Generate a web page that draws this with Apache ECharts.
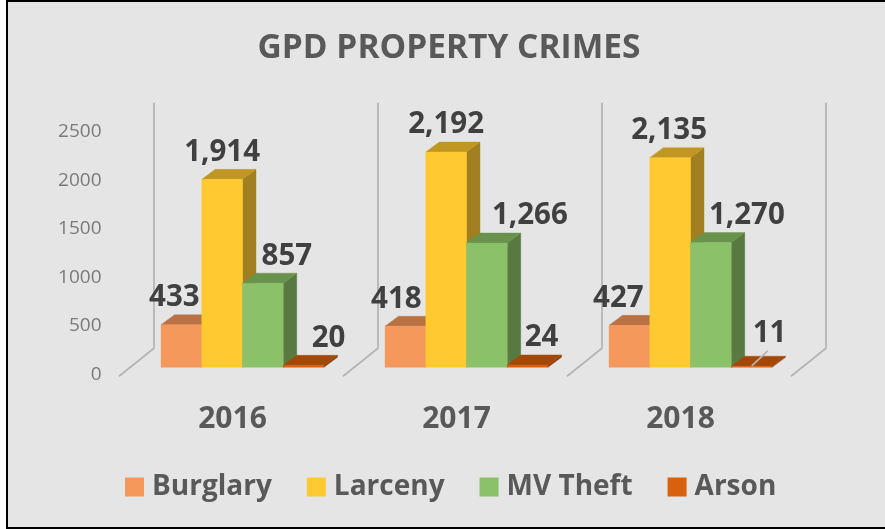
<!DOCTYPE html>
<html><head><meta charset="utf-8">
<style>html,body{margin:0;padding:0;background:#fff}#c{width:885px;height:529px}</style>
<script src="https://cdn.jsdelivr.net/npm/echarts@6/dist/echarts.min.js"></script>
</head><body><div id="c"></div>
<script>
const years = ['2016','2017','2018'];
const burglary = [433,418,427];
const larceny = [1914,2192,2135];
const mvTheft = [857,1266,1270];
const arson = [20,24,11];
const valueTicks = [0,500,1000,1500,2000,2500];

const crimeSeries = [
  {name:'Burglary', data:burglary, front:'#F4985C', top:'#B87243', side:'#A5663C', nudge:[[-7,0],[-9,0],[-11,0]]},
  {name:'Larceny', data:larceny, front:'#FFCA30', top:'#BF9722', side:'#A08020', nudge:[[0,0],[0,0],[-1,0]]},
  {name:'MV Theft', data:mvTheft, front:'#8BC168', top:'#69924C', side:'#587A40', nudge:[[24,0],[43,0],[36,0]]},
  {name:'Arson', data:arson, front:'#D9600F', top:'#A24908', side:'#8A3F07', nudge:[[25,0],[14,0],[18,-6]]}
];
const DEPTH_X = 13.5, DEPTH_Y = 10, LABEL_RISE = 27;
const WALL = '#B5B5B5';

function poly(points, fill){ return {type:'polygon', shape:{points}, style:{fill, stroke:fill, lineWidth:0.4}}; }

function barRenderer(si){
  const s = crimeSeries[si];
  return function(params, api){
    const cat = api.value(0), val = api.value(1);
    const band = api.size([1,0])[0], w = band/5.5;
    const base = api.coord([cat,0]), top = api.coord([cat,val]);
    const x0 = base[0] - 2*w + si*w, x1 = x0 + w, y0 = base[1], y1 = top[1];
    const dx = DEPTH_X, dy = DEPTH_Y;
    const n = s.nudge[cat];
    const children = [
      poly([[x1,y0],[x1+dx,y0-dy],[x1+dx,y1-dy],[x1,y1]], s.side),
      poly([[x0,y1],[x0+dx,y1-dy],[x1+dx,y1-dy],[x1,y1]], s.top),
      poly([[x0,y0],[x1,y0],[x1,y1],[x0,y1]], s.front),
      {type:'text', z2:50, style:{x:x0+w/2+n[0], y:y1-LABEL_RISE+n[1], text:val.toLocaleString('en-US'),
        fill:'#404040', font:'bold 29.5px "Open Sans"', align:'center', verticalAlign:'middle'}}
    ];
    if (si===3 && cat===2) {
      children.push({type:'line', z2:40, shape:{x1:x0+20.5,y1:y0-1.5,x2:x0+36.5,y2:y0-16.5},
        style:{stroke:WALL, lineWidth:1.8}});
    }
    return {type:'group', children};
  };
}

function wallRenderer(params, api){
  const cat = api.value(0);
  const band = api.size([1,0])[0];
  const b = api.coord([cat,0]), t = api.coord([cat,2500]);
  const edges = cat===years.length-1 ? [b[0]-band/2, b[0]+band/2] : [b[0]-band/2];
  const children = [];
  edges.forEach(e=>{
    const x = e + 23.5;
    children.push({type:'polyline', shape:{points:[[x,t[1]-19],[x,b[1]-19],[x-35,b[1]+9]]},
      style:{fill:'none', stroke:WALL, lineWidth:1.8}});
  });
  return {type:'group', children};
}

const option = {
  animation:false,
  backgroundColor:'#fff',
  graphic:[{type:'rect', z:-10, silent:true, shape:{x:7,y:1,width:885,height:527},
    style:{fill:'#E5E5E5', stroke:'#000', lineWidth:2}}],
  title:{text:'GPD PROPERTY CRIMES', left:444, top:43, textAlign:'center', textVerticalAlign:'middle',
    textStyle:{color:'#595959', fontFamily:'Open Sans', fontWeight:'bold', fontSize:33.5}},
  legend:{show:true, left:120, top:468, itemWidth:19, itemHeight:19, itemGap:35, icon:'rect',
    textStyle:{color:'#595959', fontFamily:'Open Sans', fontWeight:'bold', fontSize:28, padding:[0,0,0,3]},
    data:crimeSeries.map(s=>s.name)},
  grid:[
    {left:130.5, width:672, top:121.8, height:245.5},
    {left:120.5, width:672, top:131.5, height:243}
  ],
  xAxis:[
    {gridIndex:0, type:'category', data:years, axisLine:{show:false}, axisTick:{show:false}, axisLabel:{show:false}},
    {gridIndex:1, type:'category', data:years, axisLine:{show:false}, axisTick:{show:false},
      axisLabel:{margin:30, color:'#595959', fontFamily:'Open Sans', fontWeight:'bold', fontSize:30}}
  ],
  yAxis:[
    {gridIndex:0, type:'value', min:0, max:2500, interval:500, axisLine:{show:false}, axisTick:{show:false}, splitLine:{show:false}, axisLabel:{show:false}},
    {gridIndex:1, type:'value', min:valueTicks[0], max:valueTicks[valueTicks.length-1], interval:500,
      axisLine:{show:false}, axisTick:{show:false}, splitLine:{show:false},
      axisLabel:{margin:19, color:'#7A7A7A', fontFamily:'Open Sans', fontSize:19, formatter:v=>String(v)}}
  ],
  series:[
    {type:'custom', name:'walls', xAxisIndex:0, yAxisIndex:0, renderItem:wallRenderer, silent:true, z:1,
      data:years.map((y,i)=>[i,0])}
  ].concat(crimeSeries.map((s,si)=>({
    type:'custom', name:s.name, xAxisIndex:0, yAxisIndex:0, z:2+si, renderItem:barRenderer(si),
    itemStyle:{color:s.front},
    encode:{x:0,y:1}, data:s.data.map((v,i)=>[i,v])
  })))
};
const chart = echarts.init(document.getElementById('c'), null, {renderer:'canvas'});
chart.setOption(option);
</script></body></html>
